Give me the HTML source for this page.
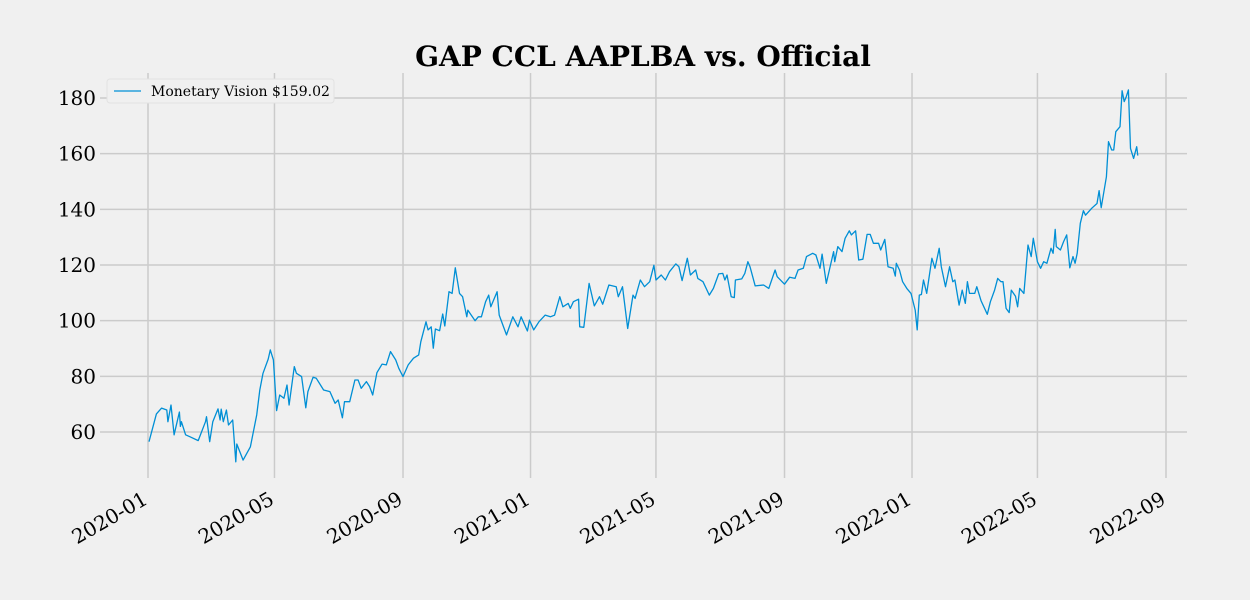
<!DOCTYPE html>
<html><head><meta charset="utf-8"><style>
html,body{margin:0;padding:0;background:#f0f0f0;}
svg{display:block;font-family:"DejaVu Serif","Liberation Serif",serif;}
</style></head><body>
<svg id="chart" width="1250" height="600" viewBox="0 0 1250 600" xmlns="http://www.w3.org/2000/svg">
<rect width="1250" height="600" fill="#f0f0f0"/>
<text x="643" y="66" text-anchor="middle" font-size="28" font-weight="bold" fill="#000">GAP CCL AAPLBA vs. Official</text>
<g id="grid"></g>
<g id="series"></g>
<g id="axes"></g>
<g>
<rect x="107" y="79" width="227" height="24" rx="3" fill="#f0f0f0" stroke="#e2e2e2"/>
<line x1="114" y1="91" x2="141" y2="91" stroke="#008fd5" stroke-width="1.3"/>
<text x="151" y="96" font-size="14" fill="#000">Monetary Vision $159.02</text>
</g>
</svg>
<script>
const days = [1,8,13,18,19,22,25,30,31,32,36,40,48,55,56,59,62,67,69,70,72,75,77,81,84,85,91,98,104,107,110,115,117,120,123,126,130,133,135,140,142,147,151,153,158,161,168,174,179,182,186,188,193,198,201,204,209,212,215,219,224,228,232,237,240,244,249,254,259,261,266,268,271,273,275,279,282,284,288,291,294,298,301,305,306,313,316,319,323,326,328,334,336,343,349,354,357,363,365,369,372,374,380,385,389,394,397,402,404,407,412,413,417,422,427,432,435,441,448,450,454,459,464,466,471,475,480,484,486,491,495,499,505,508,511,516,519,524,526,531,537,541,546,550,552,554,558,561,562,568,571,574,576,581,589,594,600,602,609,614,619,622,627,630,636,639,643,645,649,656,657,660,664,667,671,673,677,680,684,688,691,694,699,701,705,708,713,715,716,719,722,726,730,734,736,738,740,742,745,750,753,757,759,763,767,770,772,776,779,782,784,786,791,793,797,803,806,810,813,816,818,821,824,826,830,832,834,838,842,845,847,851,854,857,860,864,866,868,869,873,876,879,882,885,887,889,892,895,897,903,908,910,912,917,919,922,924,926,930,932,934,936,938,940,943,946,947];
const prices = [56.5,66.5,68.6,67.9,63.7,69.7,59,67.2,62,63.7,59,58.3,56.9,63.7,65.5,56.5,63.7,68.3,64.3,68.2,63.7,67.9,62.5,64.3,49.3,55.7,49.9,54.7,66.1,75.1,81.1,86.2,89.5,85.9,67.7,73.3,72.1,76.9,69.7,83.5,81.1,79.9,68.7,74.5,79.7,79.3,75.1,74.5,70.3,71.5,65.1,70.9,70.9,78.7,78.7,75.7,78.1,76.3,73.3,81.3,84.4,84.1,88.9,85.9,82.9,79.9,84.1,86.5,87.7,92.4,99.6,96.7,97.8,90.1,97,96.4,102.4,98.1,110.4,109.8,119,109.8,108.6,101.4,103.8,100,101.4,101.4,106.8,109.2,105,110.4,102,94.9,101.4,97.8,101.4,96.3,100.2,96.7,98.4,99.6,102,101.4,102,108.6,105,106.2,104.4,106.8,107.7,97.8,97.6,113.4,105.3,108.6,105.9,112.8,112.2,108.6,112.2,97.2,109.2,108,114.6,112.2,114,119.9,114.6,116.4,114.6,117.6,120.4,119.4,114.4,122.4,116.4,118.2,115.2,114,109.2,111.6,116.8,117,114.6,116.4,108.6,108.3,114.6,115,117,121.2,119.4,112.5,112.8,111.6,118.2,115.8,113.1,115.6,115.2,118.2,118.8,123,124.2,123.6,118.8,123.9,113.4,124.8,121.2,126.6,124.8,129.6,132.3,130.8,132.3,121.8,122.1,131,131,127.8,127.8,125.4,129.2,119.4,118.8,116,120.6,118.2,114,111.6,109.8,103.8,96.7,109.2,109.4,114.6,109.8,122.4,118.8,126,119.4,112.2,119.4,114,114.6,105.6,111,106.2,114,109.8,109.8,112.2,107.2,102.3,106.8,111,115.2,114,114,104.4,102.9,111,108.8,105,111.6,109.8,127.2,123,129.6,121.2,118.8,121.2,120.6,126,124.2,132.8,126.6,125.4,128.4,130.8,119,123,120.6,124.2,135,139.5,137.9,140.4,142.1,146.7,140.6,151.7,164.3,161.3,161.3,167.9,169.7,182.6,178.7,180.5,182.9,161.9,158.3,162.5,159.3];
const yTicks = [60,80,100,120,140,160,180];
const xTickLabels = ["2020-01","2020-05","2020-09","2021-01","2021-05","2021-09","2022-01","2022-05","2022-09"];
const xTickDays = [0,121,244,366,486,609,731,851,974];

const NS="http://www.w3.org/2000/svg";
const L=100,R=1187,T=73,B=478;
function xs(d){return 148+(d)*(1018/974);}
function ys(v){return 432-(v-60)*(334/120);}
const grid=document.getElementById('grid'),axes=document.getElementById('axes'),series=document.getElementById('series');
function mk(tag,attrs,parent){const e=document.createElementNS(NS,tag);for(const k in attrs)e.setAttribute(k,attrs[k]);parent.appendChild(e);return e;}
yTicks.forEach(v=>{
  const y=ys(v);
  const g=mk('line',{x1:L,x2:R,y1:y,y2:y,stroke:'#cbcbcb','stroke-width':1.5},grid);
  
  
  const t=mk('text',{x:96,y:y+7,'text-anchor':'end','font-size':20,fill:'#000'},axes);
  t.textContent=v;
  
  
});
xTickDays.forEach((d,i)=>{
  const x=xs(d);
  const g=mk('line',{x1:x,x2:x,y1:T,y2:B,stroke:'#cbcbcb','stroke-width':1.5},grid);
  
  
  const ax=x+1,ay=503;
  const t=mk('text',{x:ax,y:ay,'text-anchor':'end','font-size':20,fill:'#000',transform:'rotate(-30 '+ax+' '+ay+')'},axes);
  t.textContent=xTickLabels[i];
  
  
});
const pts=days.map((d,i)=>xs(d).toFixed(1)+','+ys(prices[i]).toFixed(1)).join(' ');
const pl=mk('polyline',{points:pts,fill:'none',stroke:'#008fd5','stroke-width':1.3,'stroke-linejoin':'round'},series);


</script>
</body></html>
